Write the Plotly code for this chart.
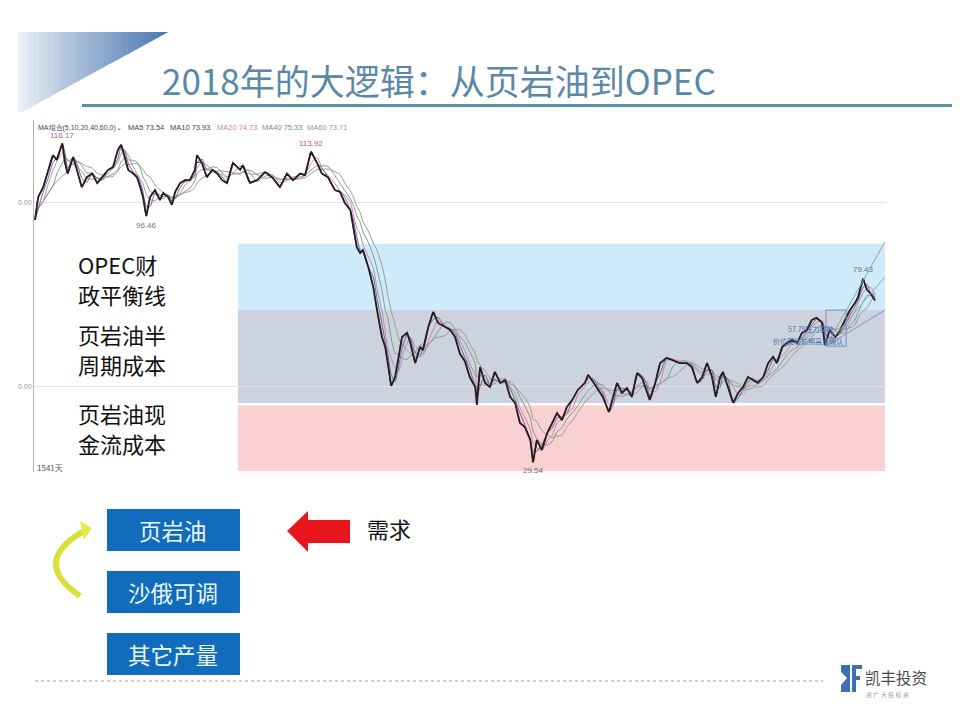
import plotly.graph_objects as go
import pandas as pd

# ---------------- data ----------------
days = [0, 6, 15, 24, 33, 40, 50, 55, 60, 70,
        77, 86, 95, 105, 114, 123, 134, 143, 152, 158,
        165, 171, 180, 187, 193, 198, 204, 211, 220, 229,
        235, 244, 251, 257, 266, 275, 284, 293, 297, 306,
        315, 325, 334, 343, 352, 363, 376, 381, 394, 407,
        422, 436, 449, 462, 473, 486, 495, 506, 517, 526,
        537, 550, 559, 568, 578, 583, 590, 596, 601, 611,
        620, 627, 636, 642, 647, 653, 660, 666, 673, 682,
        688, 697, 706, 711, 721, 730, 739, 752, 761, 770,
        779, 788, 797, 807, 810, 816, 825, 834, 843, 853,
        862, 871, 880, 889, 898, 908, 913, 920, 929, 939,
        948, 957, 966, 975, 985, 995, 1008, 1014, 1023, 1032,
        1041, 1052, 1060, 1067, 1076, 1085, 1094, 1104, 1113, 1122,
        1127, 1137, 1146, 1158, 1170, 1182, 1195, 1204, 1214, 1223,
        1232, 1241, 1248, 1256, 1261, 1270, 1280, 1289, 1298, 1307,
        1316, 1325, 1335, 1344, 1353, 1360, 1370, 1379, 1388, 1397,
        1406, 1415, 1424, 1433, 1443, 1448, 1457, 1467, 1476, 1485,
        1494, 1503, 1509, 1518, 1525, 1531, 1536, 1540]
prices = [95.4, 101.6, 104.3, 109, 113, 111.7, 116.17, 110.9, 108, 112.5,
          109, 104.3, 107, 108, 105.4, 107, 109, 109.8, 114.4, 115.8,
          112.5, 109, 108, 107, 104.3, 101.6, 96.46, 101.6, 103.5, 100.8,
          102.7, 101.6, 99.5, 103, 105.4, 106.2, 106.2, 109, 113, 110.9,
          107, 109, 108, 106.2, 105.4, 110.9, 109, 110.3, 105.5, 106.2,
          108.4, 106.8, 104.3, 108, 106.2, 108, 107.6, 113.92, 110.9, 108,
          107, 103.5, 103, 100, 98.1, 93.5, 88, 86.4, 87.2, 82.6,
          77.2, 70.9, 63.6, 60.9, 56.5, 50.3, 52.7, 57.3, 63.6, 64.7,
          62, 56.5, 60.9, 60, 66.3, 70.4, 67.4, 66.3, 65.5, 63.6,
          59, 57, 52.7, 50, 45.1, 55.4, 51.1, 50, 54.1, 51.1,
          51.9, 47.3, 45.7, 40.2, 39.1, 35.6, 29.54, 35.6, 32.9, 37.5,
          40.2, 42.9, 41, 44.6, 46.5, 49.2, 51.1, 53.3, 51.4, 49.2,
          47.3, 43.2, 47.3, 51.1, 48.4, 49.7, 47.3, 53.8, 52.4, 48.4,
          46.5, 51.1, 56.5, 57.9, 57.3, 56.5, 56.5, 55.4, 51.1, 52.7,
          56.5, 52.7, 47.3, 52.7, 54.1, 50, 45.7, 48.4, 50, 52.7,
          51.9, 51.1, 52.7, 56.5, 58.2, 56.5, 60.9, 62, 62.8, 62,
          64.7, 65.5, 68.2, 68.8, 67.4, 61.4, 65.5, 63.6, 65.5, 68.2,
          70.9, 72.8, 74.5, 79.43, 76.4, 75.5, 74.5, 73.5]
assert len(days) == len(prices)

ma_windows = [5, 10, 20, 40, 60]
ma_legend_values = ["73.54", "73.93", "74.73", "75.33", "73.71"]

peak_days = [50, 506, 204, 913, 1518]
peak_values = [116.17, 113.92, 96.46, 29.54, 79.43]

band_names = [["OPEC财", "政平衡线"], ["页岩油半", "周期成本"], ["页岩油现", "金流成本"]]
band_bottom = [70.9, 45.65, 27.2]
band_top = [88.9, 70.9, 45.0]
band_start_day = 372
band_end_day = 1558

trend_start_day = 1450
trend_start_price = 61.1
trend_end_day = 1558
trend_end_prices = [89.4, 79.9, 70.9]

box_labels = ["页岩油", "沙俄可调", "其它产量"]

# ---------------- helpers ----------------
# the page body has an 8px margin; lay the figure out in window pixels
OFF = 8
W, H = 960 - OFF, 720 - OFF
FONT = "Noto Sans CJK SC"


def px(x):
    return (x - OFF) / W


def py(y):
    return 1 - (y - OFF) / H


def rect(x0, y0, x1, y1, color, layer="above", line=None):
    return dict(type="rect", xref="paper", yref="paper",
                x0=px(x0), x1=px(x1), y0=py(y1), y1=py(y0),
                fillcolor=color, line=line or dict(width=0), layer=layer)


def poly(points, color, layer="above"):
    d = "M " + " L ".join(f"{px(a):.5f},{py(b):.5f}" for a, b in points) + " Z"
    return dict(type="path", xref="paper", yref="paper", path=d,
                fillcolor=color, line=dict(width=0), layer=layer)


def text(x, y, s, size, color, xanchor="left", **kw):
    return dict(x=px(x), y=py(y), xref="paper", yref="paper", text=s,
                showarrow=False, xanchor=xanchor, yanchor="middle",
                font=dict(family=kw.pop("family", FONT), size=size, color=color), **kw)


# ---------------- traces ----------------
fig = go.Figure()

s = pd.Series(prices, index=pd.to_datetime(days, unit="D"))
ma_colors = ["#3a3a5c", "#5b6f8f", "#d27cc4", "#74a57a", "#9a9a9a"]
for w, c in zip(ma_windows[::-1], ma_colors[::-1]):
    ma = s.rolling(f"{w}D").mean()
    fig.add_trace(go.Scatter(x=days, y=ma.values, mode="lines",
                             line=dict(color=c, width=1, shape="spline", smoothing=0.6),
                             hoverinfo="skip"))

fig.add_trace(go.Scatter(x=days, y=prices, mode="lines",
                         line=dict(color="#2a1c1c", width=1.8), hoverinfo="skip"))

trend_colors = ["#86a3c6", "#92b4a6", "#7d97c6"]
for ep, c in zip(trend_end_prices, trend_colors):
    fig.add_trace(go.Scatter(x=[trend_start_day, trend_end_day], y=[trend_start_price, ep],
                             mode="lines", line=dict(color=c, width=1), hoverinfo="skip"))

# ---------------- shapes ----------------
shapes = []
band_colors = ["#cfeaf8", "#cdd3de", "#fad1d3"]
for b0, b1, c in zip(band_bottom, band_top, band_colors):
    shapes.append(dict(type="rect", xref="x", yref="y", x0=band_start_day, x1=band_end_day,
                       y0=b0, y1=b1, fillcolor=c, line=dict(width=0), layer="below"))

# box near the breakout
shapes.append(dict(type="rect", xref="x", yref="y", x0=1450, x1=1487, y0=61.1, y1=70.9,
                   fillcolor="rgba(0,0,0,0)", line=dict(color="#6c8fbf", width=1), layer="above"))

# gradient triangle (top-left)
N = 30
tx0, tx1 = 18, 168
for i in range(N):
    xa = tx0 + (tx1 - tx0) * i / N
    xb = tx0 + (tx1 - tx0) * (i + 1) / N
    t = (i + 0.5) / N
    c0 = (240, 243, 249)
    c1 = (74, 121, 177)
    col = "rgb(%d,%d,%d)" % tuple(int(c0[k] + (c1[k] - c0[k]) * t ** 0.9) for k in range(3))
    yb = lambda x: 112 - (x - 22) * (80 / 146)
    ya_b = min(112, yb(xa))
    yb_b = min(112, yb(xb))
    shapes.append(poly([(xa, 32), (xb + 0.4, 32), (xb + 0.4, yb_b), (xa, ya_b)], col))

# title underline
shapes.append(rect(82, 104, 960, 107, "#5893a5"))

# blue boxes
for i in range(3):
    y0 = 509 + i * 62
    shapes.append(rect(107, y0, 240, y0 + 42, "#116cbb"))

# red arrow
shapes.append(poly([(287, 531), (308, 511), (308, 520), (350, 520), (350, 543),
                    (308, 543), (308, 552)], "#e8161c"))

# yellow curved arrow
d = (f"M {px(80)},{py(596)} Q {px(30)},{py(562)} {px(84)},{py(531)}")
shapes.append(dict(type="path", xref="paper", yref="paper", path=d,
                   line=dict(color="#d9e03a", width=6), layer="above"))
shapes.append(poly([(80, 521), (92, 528), (84, 540)], "#e4ea50"))

# dotted line
shapes.append(dict(type="line", xref="paper", yref="paper", x0=px(35), x1=px(823),
                   y0=py(681), y1=py(681), line=dict(color="#cfcfcf", width=2, dash="dot")))

# logo icon
shapes.append(rect(841, 665, 850, 692, "#3c70b5"))
shapes.append(poly([(841, 672), (847, 678), (841, 685)], "#ffffff"))
shapes.append(rect(852, 665, 856, 692, "#3c70b5"))
shapes.append(rect(852, 665, 862, 669, "#3c70b5"))
shapes.append(rect(852, 676, 860, 680, "#3c70b5"))

# ---------------- annotations ----------------
ann = []
ann.append(text(160, 79, "2018年的大逻辑：从页岩油到OPEC", 35, "#5c88a7"))

# MA legend
ann.append(text(36, 128, "MA组合(5,10,20,40,60,0)⌄", 7, "#3a4466", family="Liberation Sans"))
leg_x = [126, 168, 215, 260, 305]
leg_cols = ["#3a4466", "#3a4466", "#d07cc4", "#6a9a72", "#9a9a9a"]
for lx, w, v, c in zip(leg_x, ma_windows, ma_legend_values, leg_cols):
    ann.append(text(lx, 128, f"MA{w} {v}", 7.5, c, family="Liberation Sans"))

ann.append(text(35, 467, "1541天", 8, "#555555"))

# peak / trough labels
shifts = [8, 8, -9, -8, 9]
lab_cols = ["#c85a5a", "#c85a5a", "#6a7a8a", "#707070", "#707070"]
for dd, v, sh, c in zip(peak_days, peak_values, shifts, lab_cols):
    ann.append(dict(x=dd, y=v, xref="x", yref="y", text=f"{v:.2f}", showarrow=False,
                    yshift=sh, font=dict(family="Liberation Sans", size=8, color=c)))

# breakout note
ann.append(text(836, 329, "57.79压力突破", 7, "#4a6fb0", xanchor="right", family=FONT))
ann.append(text(845, 341, "价位突破前期高点确认", 7, "#4a6fb0", xanchor="right", family=FONT))

# band labels (two lines each)
for lines, yc in zip(band_names, [264, 334, 413]):
    for j, ln in enumerate(lines):
        ann.append(text(77, yc + j * 30, ln, 22, "#111111", height=28, valign="middle",
                        borderpad=0))

# box labels
for i, lb in enumerate(box_labels):
    ann.append(text(173, 530 + i * 62, lb, 22.5, "#eaf6ff", xanchor="center"))

ann.append(text(365, 528, "需求", 22, "#111111"))

# logo text
ann.append(text(863, 677, "凯丰投资", 15.5, "#4a4a4a"))
ann.append(text(864, 694, "资 广 大 投 标 资", 6, "#9a9a9a"))

fig.update_layout(
    width=W, height=H,
    margin=dict(l=0, r=0, t=0, b=0),
    paper_bgcolor="#ffffff", plot_bgcolor="#ffffff",
    showlegend=False,
    xaxis=dict(domain=[px(34), px(886)], range=[-1.8, 1560], showgrid=False,
               showticklabels=False, zeroline=False, showline=False, fixedrange=True),
    yaxis=dict(domain=[py(472), py(120)], range=[26.9, 122.55],
               tickvals=[50, 100], ticktext=["0.00", "0.00"],
               tickfont=dict(family="Liberation Sans", size=7, color="#999999"),
               showgrid=True, gridcolor="#e4e4e4", zeroline=False,
               showline=True, linecolor="#b5b5b5", linewidth=1, ticks="", fixedrange=True),
    shapes=shapes,
    annotations=ann,
)

fig.write_html("out.html")
